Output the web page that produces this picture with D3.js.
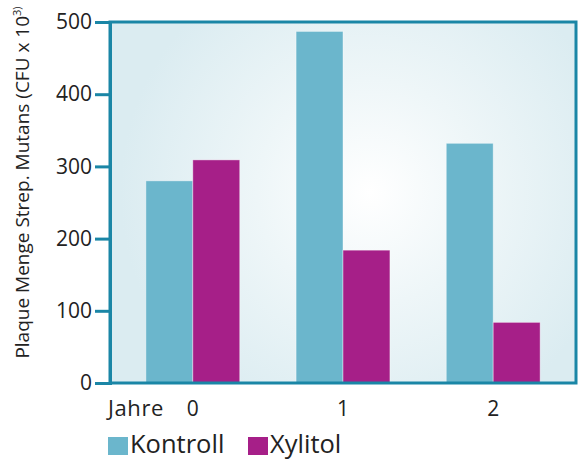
<!DOCTYPE html>
<html>
<head>
<meta charset="utf-8">
<script src="https://cdn.jsdelivr.net/npm/d3@7"></script>
<style>
  body { margin: 0; background: #fff; }
  svg text { font-family: "Open Sans", "Noto Sans", sans-serif; fill: #222; }
</style>
</head>
<body>
<div id="chart"></div>
<script>
// data
var years = ["0", "1", "2"];
var series = ["Kontroll", "Xylitol"];
var kontroll = [280, 487, 332];
var xylitol = [309, 184, 84];
var yTicks = [0, 100, 200, 300, 400, 500];
var colors = { Kontroll: "#6bb6cc", Xylitol: "#a61f88" };

var svgWidth = 579, svgHeight = 461;
var margin = { top: 22, right: 3, bottom: 78, left: 110 };
var width = svgWidth - margin.left - margin.right;
var height = svgHeight - margin.top - margin.bottom;

var svg = d3.select("#chart").append("svg")
  .attr("width", svgWidth)
  .attr("height", svgHeight);

var defs = svg.append("defs");
var grad = defs.append("radialGradient")
  .attr("id", "bg")
  .attr("gradientUnits", "userSpaceOnUse")
  .attr("cx", 260).attr("cy", 170).attr("r", 250);
grad.append("stop").attr("offset", "0%").attr("stop-color", "#ffffff");
grad.append("stop").attr("offset", "45%").attr("stop-color", "#eef6f8");
grad.append("stop").attr("offset", "100%").attr("stop-color", "#dbecf1");

var chartGroup = svg.append("g")
  .attr("transform", `translate(${margin.left}, ${margin.top})`);

var rows = years.map(function(y, i) {
  return { year: y, Kontroll: kontroll[i], Xylitol: xylitol[i] };
});

// scales
var x0 = d3.scaleBand()
  .domain(years)
  .range([0, width])
  .paddingInner(0.375)
  .paddingOuter(0.239);

var x1 = d3.scaleBand()
  .domain(series)
  .range([0, x0.bandwidth()]);

var y = d3.scaleLinear()
  .domain([0, 500])
  .range([height, 0]);

// plot background
chartGroup.append("rect")
  .attr("x", 0).attr("y", 0)
  .attr("width", width).attr("height", height)
  .attr("fill", "url(#bg)");

// bars
chartGroup.selectAll("g.year")
  .data(rows)
  .enter()
  .append("g")
  .attr("class", "year")
  .attr("transform", d => `translate(${x0(d.year)}, 0)`)
  .selectAll("rect")
  .data(d => series.map(s => ({ key: s, value: d[s] })))
  .enter()
  .append("rect")
  .attr("x", d => x1(d.key))
  .attr("y", d => y(d.value))
  .attr("width", x1.bandwidth())
  .attr("height", d => height - y(d.value))
  .attr("fill", d => colors[d.key])
  .attr("stroke", "rgba(255,255,255,0.5)")
  .attr("stroke-width", 0.8);

// frame
chartGroup.append("rect")
  .attr("x", 0).attr("y", 0)
  .attr("width", width).attr("height", height)
  .attr("fill", "none")
  .attr("stroke", "#1a86a6")
  .attr("stroke-width", 3);

// y axis
var leftAxis = d3.axisLeft(y)
  .tickValues(yTicks)
  .tickSize(15)
  .tickPadding(3);

var yAxis = chartGroup.append("g").call(leftAxis);
yAxis.select(".domain").attr("stroke", "#1a86a6").attr("stroke-width", 3);
yAxis.selectAll(".tick line").attr("stroke", "#1a86a6").attr("stroke-width", 3);
yAxis.selectAll(".tick text")
  .attr("font-size", 21)
  .attr("font-family", "Open Sans, sans-serif")
  .attr("fill", "#222");

// x axis labels
var bottomAxis = d3.axisBottom(x0).tickSize(0).tickPadding(18);
var xAxis = chartGroup.append("g")
  .attr("transform", `translate(0, ${height})`)
  .call(bottomAxis);
xAxis.select(".domain").remove();
xAxis.selectAll(".tick text")
  .attr("font-size", 21)
  .attr("font-family", "Open Sans, sans-serif")
  .attr("fill", "#222");

chartGroup.append("text")
  .attr("x", -2)
  .attr("y", height + 33)
  .attr("font-size", 22)
  .attr("letter-spacing", 0.6)
  .text("Jahre");

// y label
var yLabel = svg.append("text")
  .attr("transform", `translate(29, ${margin.top + height / 2 - 20}) rotate(-90)`)
  .attr("text-anchor", "middle")
  .attr("font-size", 19);
yLabel.append("tspan").text("Plaque Menge Strep.  Mutans (CFU x 10");
yLabel.append("tspan").attr("dy", -8).attr("font-size", 11).text("3)");

// legend
var legend = svg.append("g")
  .attr("transform", "translate(108, 437)");

var items = legend.selectAll("g")
  .data(series)
  .enter()
  .append("g")
  .attr("transform", (d, i) => `translate(${i * 140}, 0)`);

items.append("rect")
  .attr("width", 20).attr("height", 18)
  .attr("fill", d => colors[d]);

items.append("text")
  .attr("x", 22)
  .attr("y", 16)
  .attr("font-size", 25.5)
  .text(d => d);
</script>
</body>
</html>
